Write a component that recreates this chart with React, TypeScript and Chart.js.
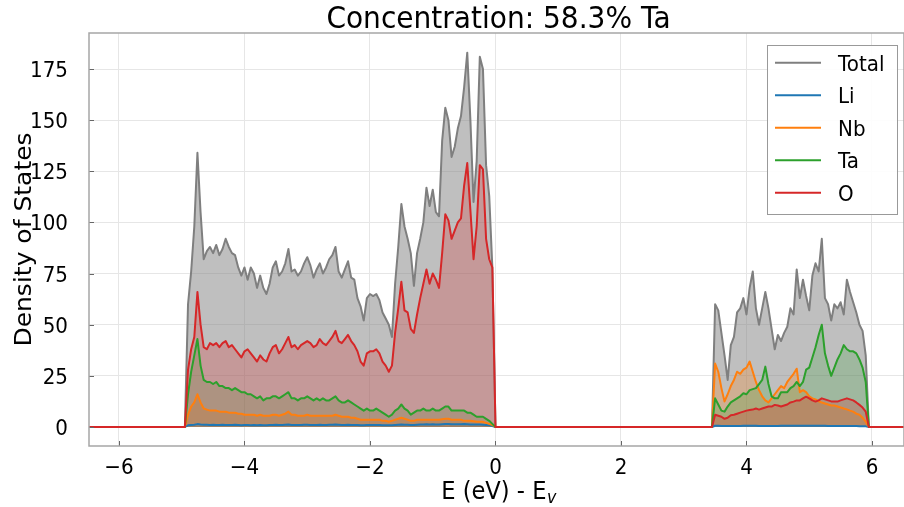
import React, { useEffect, useRef } from "react";
import { Chart, registerables } from "chart.js";

Chart.register(...registerables);

// Energy sampling of the two bands (eV, relative to the valence band maximum)
const VB_START = -4.95;
const CB_START = 3.45;
const STEP = 0.05;

const X_TICKS = [-6, -4, -2, 0, 2, 4, 6];
const Y_TICKS = [0, 25, 50, 75, 100, 125, 150, 175];

const TITLE = "Concentration: 58.3% Ta";
const Y_LABEL = "Density of States";

// Valence band DOS, -4.95 .. 0.00 eV
const TOTAL_VB = [
  0, 60, 76, 98, 134, 105, 82, 86, 88, 85,
  89, 84, 87, 92, 88, 85, 84, 78, 74, 78,
  72, 78, 75, 68, 74, 68, 65, 70, 78, 81,
  74, 76, 80, 87, 76, 77, 74, 76, 80, 83,
  79, 73, 77, 80, 75, 78, 82, 84, 88, 76,
  73, 77, 81, 73, 72, 63, 59, 52, 63, 65,
  64, 65, 62, 56, 53, 50, 44, 70, 88, 109,
  98, 92, 85, 69, 85, 92, 100, 117, 108, 116,
  105, 103, 140, 156, 150, 132, 137, 146, 152, 166,
  183, 150, 110, 130, 181, 175, 128, 113, 78, 0,
];
const LI_VB = [
  0, 0.8, 1.0, 1.1, 1.4, 1.2, 1.1, 1.1, 1.0, 1.1,
  1.0, 1.0, 1.1, 1.0, 1.0, 1.0, 1.1, 1.0, 0.9, 1.0,
  1.0, 0.9, 1.0, 0.9, 1.0, 0.9, 0.9, 1.0, 1.0, 1.1,
  1.0, 1.0, 1.1, 1.2, 1.0, 1.0, 1.0, 1.0, 1.1, 1.1,
  1.0, 1.0, 1.0, 1.1, 1.0, 1.0, 1.1, 1.1, 1.2, 1.1,
  1.0, 1.0, 1.1, 1.0, 1.0, 1.0, 0.9, 0.9, 1.0, 1.0,
  1.0, 1.0, 1.0, 0.9, 0.9, 0.8, 0.9, 1.0, 1.1, 1.2,
  1.1, 1.1, 1.0, 1.0, 1.1, 1.2, 1.2, 1.3, 1.2, 1.3,
  1.2, 1.2, 1.3, 1.4, 1.4, 1.3, 1.3, 1.3, 1.3, 1.4,
  1.3, 1.2, 1.2, 1.2, 1.2, 1.1, 1.0, 0.8, 0.5, 0,
];
const NB_VB = [
  0, 6, 10, 12, 16, 12, 9, 8.5, 8, 8,
  8, 7.5, 7.5, 7.5, 7, 7, 7, 6.5, 6.5, 6,
  6, 6, 6, 5.5, 6, 5.5, 5.5, 5.5, 6, 6,
  5.5, 6, 6.5, 7.5, 6, 6, 5.5, 5.5, 5.5, 6,
  5.5, 5.5, 5.5, 5.5, 5.5, 5.5, 5.5, 5.5, 6, 5.5,
  5, 5, 5, 4.5, 4.5, 4, 3.5, 3.5, 3.5, 3.5,
  3.5, 3.5, 3.5, 3, 3, 2.6, 3, 3.5, 4, 4.5,
  4, 3.5, 3, 3, 3.5, 3.5, 3.5, 3.5, 3.5, 3.5,
  3.5, 3.5, 3.8, 4, 4, 3.5, 3.5, 3.5, 3.5, 3,
  3, 3, 2.8, 2.6, 2.5, 2.5, 2, 1.5, 1, 0,
];
const TA_VB = [
  0, 16, 27, 35, 43, 30, 23, 22, 22, 21,
  22, 20, 20, 19, 19, 18, 19, 18, 17, 17,
  16, 16, 15, 14, 15, 13, 14, 14, 15, 15,
  14, 15, 16, 17, 14, 14, 13, 14, 14, 15,
  14, 13, 14, 13, 14, 13, 13, 14, 15, 13,
  12, 12, 13, 12, 11, 10, 9, 8, 9, 8,
  8, 9, 8, 7, 6, 5, 6, 8, 9, 11,
  9, 8, 6, 7, 8, 8, 9, 8, 8, 9,
  8, 8, 9, 10, 10, 8, 8, 8, 8, 8,
  7, 7, 6, 5, 5, 5, 4, 3, 1.5, 0,
];
const O_VB = [
  0, 28, 38, 44, 66, 50, 39, 38, 41, 40,
  41, 39, 41, 42, 39, 40, 38, 36, 34, 37,
  38, 36, 34, 32, 35, 33, 32, 36, 39, 40,
  36, 38, 41, 44, 39, 40, 38, 40, 41, 42,
  41, 39, 40, 43, 41, 40, 42, 44, 47, 42,
  41, 43, 45, 42, 40, 37, 32, 30, 36, 37,
  37, 38, 36, 32, 30, 27, 30, 46, 58, 71,
  57, 56, 48, 46, 55, 63, 70, 77, 70, 75,
  72, 68, 85, 104, 101, 92, 96, 100, 102, 118,
  129, 106, 82, 98, 128, 126, 92, 82, 78, 0,
];

// Conduction band DOS, 3.45 .. 5.95 eV
const TOTAL_CB = [
  0, 60, 57, 46, 35, 23, 40, 44, 56, 58,
  63, 55, 68, 76, 58, 50, 58, 66, 58, 48,
  38, 45, 42, 46, 49, 58, 55, 77, 63, 72,
  64, 57, 74, 80, 76, 92, 63, 60, 52, 60,
  58, 61, 55, 72, 66, 61, 56, 50, 47, 35,
  0,
];
const LI_CB = [
  0, 0.6, 0.6, 0.5, 0.5, 0.5, 0.5, 0.5, 0.5, 0.5,
  0.6, 0.6, 0.6, 0.6, 0.6, 0.5, 0.5, 0.5, 0.5, 0.5,
  0.5, 0.5, 0.6, 0.6, 0.6, 0.6, 0.6, 0.6, 0.6, 0.6,
  0.6, 0.6, 0.6, 0.6, 0.6, 0.6, 0.6, 0.5, 0.5, 0.5,
  0.5, 0.5, 0.5, 0.5, 0.5, 0.5, 0.5, 0.4, 0.4, 0.3,
  0,
];
const NB_CB = [
  0, 31, 27, 19, 12.5, 16, 20, 23, 27, 26,
  28, 29, 32, 27, 22, 18, 15, 13, 12, 14,
  16, 18, 20, 19, 22, 24, 26, 28.5, 17, 18,
  17, 15, 14, 13.5, 12.5, 12, 11.5, 11, 10.5, 10.5,
  10, 9.5, 9, 8.6, 8, 7.5, 6.5, 6, 4.5, 2.6,
  0,
];
const TA_CB = [
  0, 14, 11, 8, 7.5, 10, 12, 13, 14, 15,
  16.5, 16, 18, 18.5, 19, 21, 23, 29.5, 21, 15,
  14, 14, 17, 17, 17, 19, 20, 22, 20, 22,
  28, 29, 34, 39, 45, 50, 36, 30, 25, 29,
  33, 36, 40, 38, 37, 37, 36, 33, 29, 22,
  0,
];
const O_CB = [
  0, 6, 5.5, 5, 4, 4.5, 5.7, 6, 6.5, 7,
  7.5, 8, 8.3, 8.5, 9, 8.5, 9, 9.5, 10, 10,
  10.8, 10.5, 10, 10.5, 11, 12, 12.4, 13, 13, 14,
  14.8, 14, 13, 12.4, 13, 14, 13.5, 13, 12.5, 12.4,
  12.4, 13, 13.5, 14, 13.5, 13, 12, 10.8, 9.5, 7.5,
  0,
];

const SERIES = [
  { label: "Total", color: "#7f7f7f", fill: "rgba(127,127,127,0.5)", vb: TOTAL_VB, cb: TOTAL_CB },
  { label: "Li", color: "#1f77b4", fill: "rgba(31,119,180,0.25)", vb: LI_VB, cb: LI_CB },
  { label: "Nb", color: "#ff7f0e", fill: "rgba(255,127,14,0.25)", vb: NB_VB, cb: NB_CB },
  { label: "Ta", color: "#2ca02c", fill: "rgba(44,160,44,0.22)", vb: TA_VB, cb: TA_CB },
  { label: "O", color: "#d62728", fill: "rgba(214,39,40,0.25)", vb: O_VB, cb: O_CB },
];

const FONT = '"DejaVu Sans", sans-serif';
const SQUEEZE = 0.904;

function energies(start: number, n: number): number[] {
  return Array.from({ length: n }, (_, i) => Math.round((start + i * STEP) * 100) / 100);
}

function buildPoints(vb: number[], cb: number[]) {
  const ev = energies(VB_START, vb.length);
  const ec = energies(CB_START, cb.length);
  return [
    { x: -6.8, y: 0 },
    ...vb.map((y, i) => ({ x: ev[i], y })),
    ...cb.map((y, i) => ({ x: ec[i], y })),
    { x: 6.8, y: 0 },
  ];
}

function drawText(
  ctx: CanvasRenderingContext2D,
  text: string,
  x: number,
  y: number,
  size: number,
  align: CanvasTextAlign,
  style = ""
) {
  ctx.save();
  ctx.translate(x, y);
  ctx.scale(SQUEEZE, 1);
  ctx.font = `${style}${size}px ${FONT}`;
  ctx.textAlign = align;
  ctx.textBaseline = "alphabetic";
  ctx.fillStyle = "#000";
  ctx.fillText(text, 0, 0);
  ctx.restore();
}

const decorations = {
  id: "dosDecorations",
  afterDraw(chart: any) {
    const ctx: CanvasRenderingContext2D = chart.ctx;
    const { left, right, top, bottom } = chart.chartArea;
    const xs = chart.scales.x;
    const ys = chart.scales.y;
    ctx.save();

    // inward tick marks
    ctx.strokeStyle = "#666";
    ctx.lineWidth = 1;
    ctx.beginPath();
    X_TICKS.forEach((v) => {
      const px = Math.round(xs.getPixelForValue(v)) + 0.5;
      ctx.moveTo(px, bottom);
      ctx.lineTo(px, bottom - 5);
    });
    Y_TICKS.forEach((v) => {
      const py = Math.round(ys.getPixelForValue(v)) + 0.5;
      ctx.moveTo(left, py);
      ctx.lineTo(left + 5, py);
    });
    ctx.stroke();

    // axes frame
    ctx.strokeStyle = "#a6a6a6";
    ctx.lineWidth = 1.5;
    ctx.strokeRect(left, top, right - left, bottom - top);

    // tick labels
    X_TICKS.forEach((v) => {
      const label = v < 0 ? "\u2212" + Math.abs(v) : String(v);
      drawText(ctx, label, xs.getPixelForValue(v), bottom + 28, 22, "center");
    });
    Y_TICKS.forEach((v) => {
      drawText(ctx, String(v), left - 21, ys.getPixelForValue(v) + 8, 22, "right");
    });

    // title
    drawText(ctx, TITLE, (left + right) / 2 + 2, 28, 31, "center");

    // x axis label with italic subscript
    ctx.save();
    const main = "E (eV) - E";
    ctx.font = `25px ${FONT}`;
    const wMain = ctx.measureText(main).width * SQUEEZE;
    ctx.font = `italic 17.5px ${FONT}`;
    const wSub = ctx.measureText("v").width * SQUEEZE;
    ctx.restore();
    const x0 = (left + right) / 2 + 2 - (wMain + wSub) / 2;
    drawText(ctx, main, x0, 499, 25, "left");
    drawText(ctx, "v", x0 + wMain + 0.5, 503, 17.5, "left", "italic ");

    // y axis label
    ctx.save();
    ctx.translate(31, (top + bottom) / 2);
    ctx.rotate(-Math.PI / 2);
    ctx.scale(1, SQUEEZE);
    ctx.font = `25px ${FONT}`;
    ctx.textAlign = "center";
    ctx.textBaseline = "alphabetic";
    ctx.fillStyle = "#000";
    ctx.fillText(Y_LABEL, 0, 0);
    ctx.restore();

    // legend
    const bx = 767, by = 45, bw = 130, bh = 169;
    ctx.fillStyle = "rgba(255,255,255,0.9)";
    ctx.fillRect(bx, by, bw, bh);
    ctx.strokeStyle = "#999";
    ctx.lineWidth = 1;
    ctx.strokeRect(bx + 0.5, by + 0.5, bw, bh);
    SERIES.forEach((s, i) => {
      const cy = 62.7 + i * 32.5;
      ctx.strokeStyle = s.color;
      ctx.lineWidth = 2;
      ctx.beginPath();
      ctx.moveTo(775, cy);
      ctx.lineTo(821, cy);
      ctx.stroke();
      drawText(ctx, s.label, 838, cy + 8, 22, "left");
    });

    ctx.restore();
  },
};

export default function App() {
  const canvasRef = useRef<HTMLCanvasElement | null>(null);

  useEffect(() => {
    document.body.style.margin = "0";
    const canvas = canvasRef.current;
    if (!canvas) return;

    const datasets = SERIES.map((s, i) => ({
      label: s.label,
      data: buildPoints(s.vb, s.cb),
      borderColor: s.color,
      backgroundColor: s.fill,
      borderWidth: 2,
      pointRadius: 0,
      tension: 0,
      fill: "origin",
      order: SERIES.length - i,
      borderJoinStyle: "round" as const,
    }));

    const chart = new Chart(canvas, {
      type: "line",
      data: { datasets },
      options: {
        animation: false,
        responsive: false,
        devicePixelRatio: 1,
        layout: { padding: { top: 33, left: 0, right: 0, bottom: 0 } },
        plugins: {
          legend: { display: false },
          title: { display: false },
          tooltip: { enabled: false },
          // all areas are painted first, the curves go on top of them
          filler: { drawTime: "beforeDatasetsDraw" },
        },
        scales: {
          x: {
            type: "linear",
            min: -6.478,
            max: 6.51,
            afterBuildTicks: (s: any) => {
              s.ticks = X_TICKS.map((v) => ({ value: v }));
            },
            afterFit: (s: any) => {
              s.height = 61;
            },
            ticks: { display: false },
            grid: { color: "#e6e6e6", lineWidth: 1, drawTicks: false },
            border: { display: false },
          },
          y: {
            type: "linear",
            min: -9.3,
            max: 192.6,
            afterBuildTicks: (s: any) => {
              s.ticks = Y_TICKS.map((v) => ({ value: v }));
            },
            afterFit: (s: any) => {
              s.width = 89;
            },
            ticks: { display: false },
            grid: { color: "#e6e6e6", lineWidth: 1, drawTicks: false },
            border: { display: false },
          },
        },
      },
      plugins: [decorations],
    } as any);

    return () => chart.destroy();
  }, []);

  return (
    <div style={{ width: 904, height: 507, background: "#fff" }}>
      <canvas ref={canvasRef} width={904} height={507} />
    </div>
  );
}
